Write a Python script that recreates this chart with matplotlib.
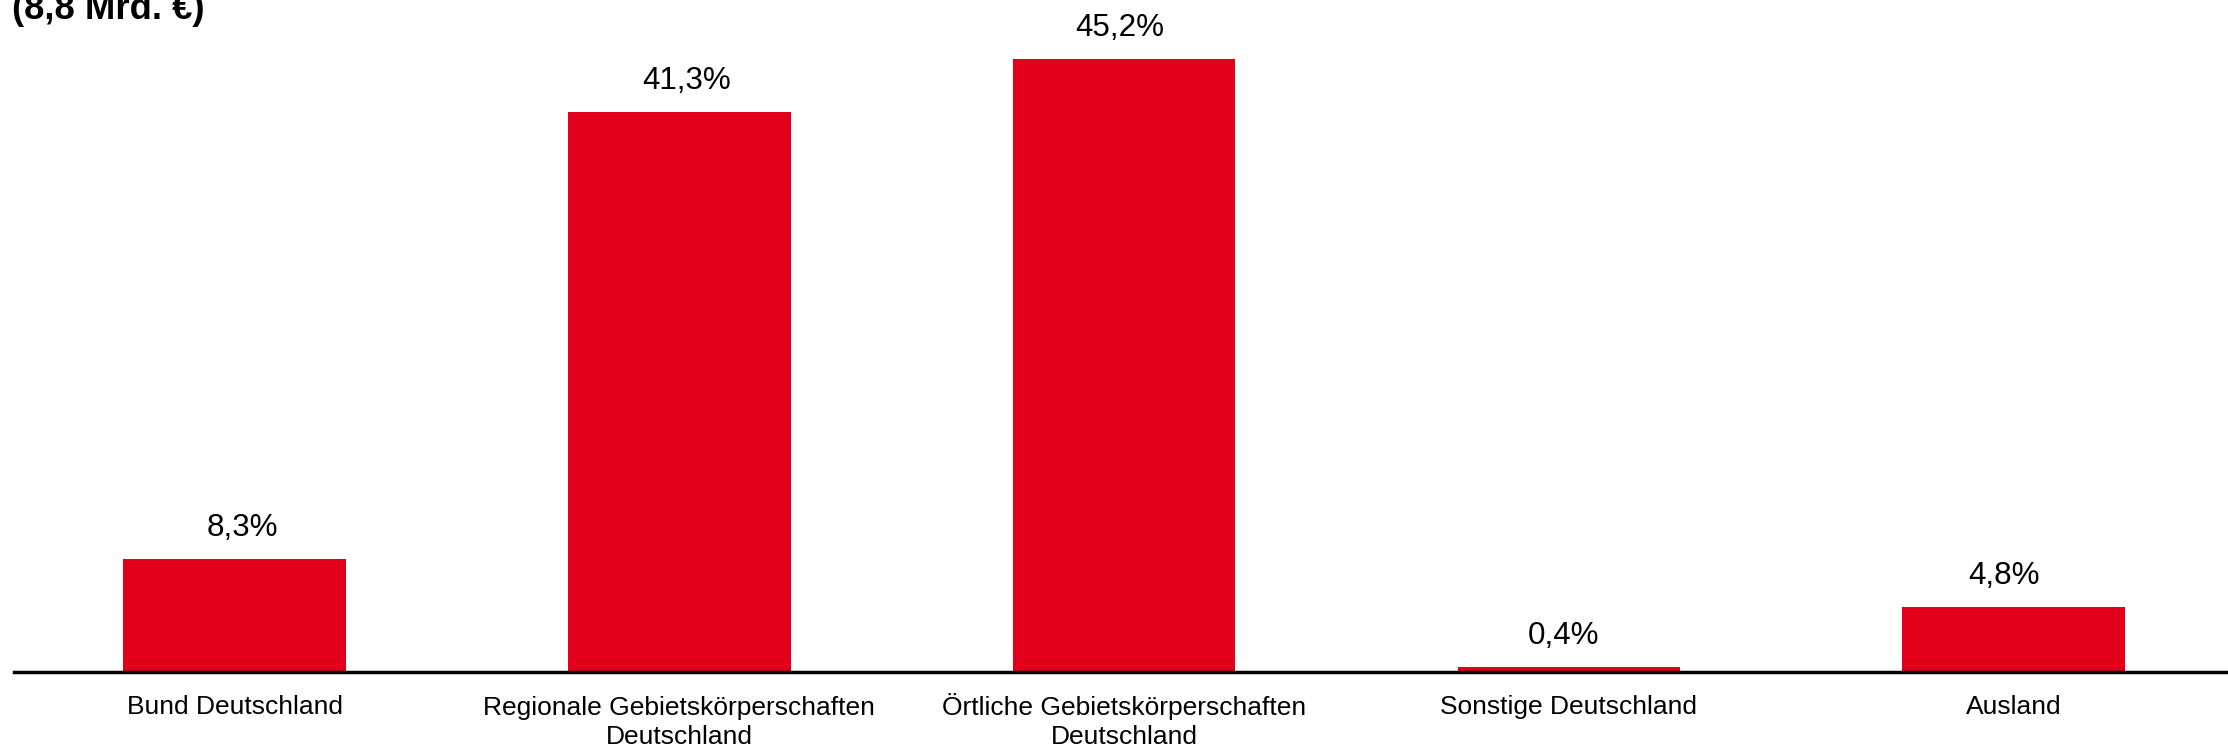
import matplotlib
matplotlib.use("Agg")
import matplotlib.pyplot as plt

categories = [
    "Bund Deutschland",
    "Regionale Gebietskörperschaften\nDeutschland",
    "Örtliche Gebietskörperschaften\nDeutschland",
    "Sonstige Deutschland",
    "Ausland",
]
shares = [8.3, 41.3, 45.2, 0.4, 4.8]
value_labels = ["8,3%", "41,3%", "45,2%", "0,4%", "4,8%"]
title = "(8,8 Mrd. €)"

# small horizontal nudges of the value labels (points), as in the original
label_dx = [5.8, 5.0, -3.0, -3.6, -6.8]

RED = "#E2001A"

plt.rcParams['font.family'] = ['Liberation Sans', 'DejaVu Sans']

W, H = 2228, 747
fig = plt.figure(figsize=(W / 100, H / 100), dpi=100)
ax = fig.add_axes([14 / W, 75 / H, 1 - 14 / W, 672 / H])

x = list(range(len(categories)))
bars = ax.bar(x, shares, width=0.5, color=RED, zorder=2)

for b, lab, dx in zip(bars, value_labels, label_dx):
    ax.annotate(lab, (b.get_x() + b.get_width() / 2, b.get_height()),
                xytext=(dx, 16.5), textcoords="offset points",
                ha="center", va="baseline", fontsize=22.6, color="black")

ax.set_xlim(-0.496, 4.482)
ax.set_ylim(0, 49.52)
ax.set_xticks(x)
ax.set_xticklabels(categories, fontsize=19, linespacing=1.25)
ax.tick_params(axis="x", length=0)
# baseline alignment (last line) so the umlaut does not push a label down
plt.setp(ax.get_xticklabels(), va="baseline")
for tick, lab in zip(ax.xaxis.get_major_ticks(), categories):
    tick.set_pad(51.6 if "\n" in lab else 30)
ax.set_yticks([])

for s in ["top", "right", "left"]:
    ax.spines[s].set_visible(False)
ax.spines["bottom"].set_linewidth(2.5)
ax.spines["bottom"].set_color("black")
ax.spines["bottom"].set_zorder(3)

fig.text(12 / W, 1 - 19 / H, title, fontsize=26.3, fontweight="bold",
         ha="left", va="baseline")

fig.savefig("out.png", dpi=100)
